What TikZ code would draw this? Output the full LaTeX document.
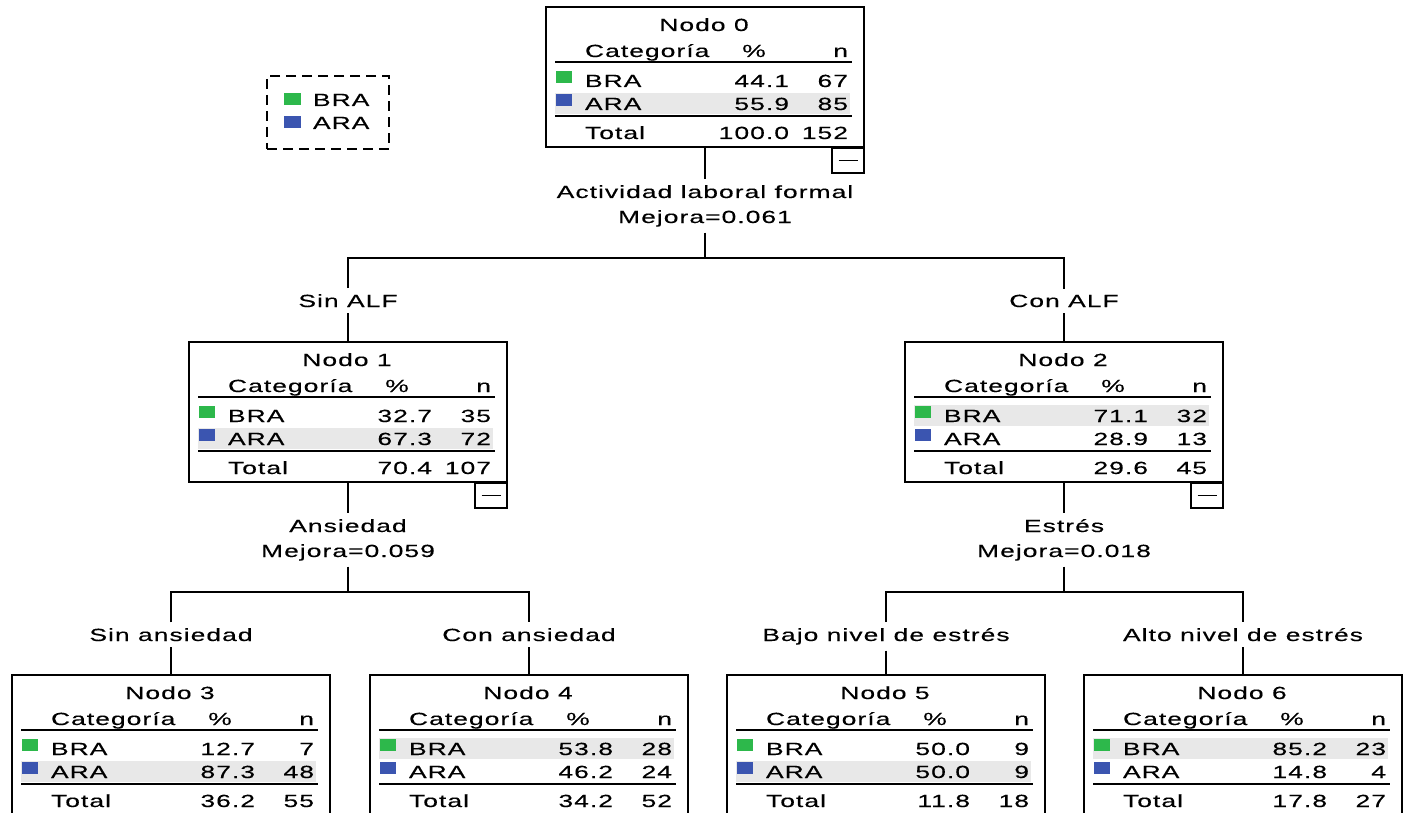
\documentclass[tikz,border=0pt]{standalone}
\usepackage{fontspec}
\newfontfamily\tf[FakeStretch=1.5,LetterSpace=6,FakeBold=0.3]{Liberation Sans}
\definecolor{bragreen}{HTML}{2DB84B}
\definecolor{arablue}{HTML}{3B55B0}
\definecolor{hlgray}{HTML}{E8E8E8}
\tikzset{
  txt/.style={font=\tf\fontsize{8.8}{10}\selectfont, inner sep=0pt, outer sep=0pt},
  lbl/.style={font=\tf\fontsize{8.8}{10}\selectfont, inner sep=3pt, outer sep=0pt},
  box/.style={draw, line width=1pt, minimum width=159pt, minimum height=70pt, anchor=north west, inner sep=0pt, outer sep=0pt},
  minusbox/.style={draw, line width=1pt, minimum width=16pt, minimum height=12.5pt, anchor=north east, inner sep=0pt, outer sep=0pt},
  rule/.style={line width=1pt},
  conn/.style={line width=1pt},
  legbox/.style={draw, line width=0.9pt, dash pattern=on 5pt off 3pt, minimum width=61pt, minimum height=36.5pt, anchor=north west, inner sep=0pt, outer sep=0pt}
}
\newcommand{\tnode}[9]{%
  \fill[hlgray] (9,#9) rectangle (304,#9+21);
  \node[box] (#1) at (0,0) {};
  \node[txt, anchor=base] (#1t) at (158,24) {Nodo #2};
  \node[txt, anchor=base west] (#1hc) at (39,50) {Categoría};
  \node[txt, anchor=base] (#1hp) at (208,50) {\%};
  \node[txt, anchor=base east] (#1hn) at (302,50) {n};
  \draw[rule] (9,55) -- (306,55);
  \fill[bragreen] (10,64) rectangle (26,76);
  \node[txt, anchor=base west] (#1b) at (39,80) {BRA};
  \node[txt, anchor=base east] (#1bp) at (243,80) {#3};
  \node[txt, anchor=base east] (#1bn) at (302,80) {#4};
  \fill[arablue] (10,87) rectangle (26,99);
  \node[txt, anchor=base west] (#1a) at (39,103) {ARA};
  \node[txt, anchor=base east] (#1ap) at (243,103) {#5};
  \node[txt, anchor=base east] (#1an) at (302,103) {#6};
  \draw[rule] (9,109) -- (306,109);
  \node[txt, anchor=base west] (#1o) at (39,132) {Total};
  \node[txt, anchor=base east] (#1op) at (243,132) {#7};
  \node[txt, anchor=base east] (#1on) at (302,132) {#8};
}
\newcommand{\minusmark}[1]{%
  \node[minusbox] (#1m) at (318,141) {};
  \draw[line width=0.9pt] ([xshift=-4.75pt]#1m.center) -- ([xshift=4.75pt]#1m.center);
}
\begin{document}
\begin{tikzpicture}[x=0.5pt,y=-0.5pt]
\useasboundingbox (0,0) rectangle (1408,813);
\clip (0,0) rectangle (1408,813);

% legend
\node[legbox] (leg) at (267,76) {};
\fill[bragreen] (284,93) rectangle (301,105);
\node[txt, anchor=base west] (legb) at (313,106) {BRA};
\fill[arablue] (284,116) rectangle (301,128);
\node[txt, anchor=base west] (lega) at (313,129) {ARA};

% nodes
\begin{scope}[shift={(546,7)}]
  \tnode{n0}{0}{44.1}{67}{55.9}{85}{100.0}{152}{86}\minusmark{n0}
\end{scope}
\begin{scope}[shift={(189,342)}]
  \tnode{n1}{1}{32.7}{35}{67.3}{72}{70.4}{107}{86}\minusmark{n1}
\end{scope}
\begin{scope}[shift={(905,342)}]
  \tnode{n2}{2}{71.1}{32}{28.9}{13}{29.6}{45}{63}\minusmark{n2}
\end{scope}
\begin{scope}[shift={(12,675)}]
  \tnode{n3}{3}{12.7}{7}{87.3}{48}{36.2}{55}{86}
\end{scope}
\begin{scope}[shift={(370,675)}]
  \tnode{n4}{4}{53.8}{28}{46.2}{24}{34.2}{52}{63}
\end{scope}
\begin{scope}[shift={(727,675)}]
  \tnode{n5}{5}{50.0}{9}{50.0}{9}{11.8}{18}{86}
\end{scope}
\begin{scope}[shift={(1084,675)}]
  \tnode{n6}{6}{85.2}{23}{14.8}{4}{17.8}{27}{63}
\end{scope}

% split labels
\node[lbl, anchor=base] (l0a) at (705,198) {Actividad laboral formal};
\node[lbl, anchor=base] (l0b) at (705,223) {Mejora=0.061};
\node[lbl, anchor=base] (l1a) at (348,532) {Ansiedad};
\node[lbl, anchor=base] (l1b) at (348,557) {Mejora=0.059};
\node[lbl, anchor=base] (l2a) at (1064,532) {Estrés};
\node[lbl, anchor=base] (l2b) at (1064,557) {Mejora=0.018};

% edge labels
\node[lbl, anchor=base] (e1) at (348,307) {Sin ALF};
\node[lbl, anchor=base] (e2) at (1064,307) {Con ALF};
\node[lbl, anchor=base] (e3) at (171,641) {Sin ansiedad};
\node[lbl, anchor=base] (e4) at (529,641) {Con ansiedad};
\node[lbl, anchor=base] (e5) at (886,641) {Bajo nivel de estrés};
\node[lbl, anchor=base] (e6) at (1243,641) {Alto nivel de estrés};

\coordinate (h0) at (705,258);
\coordinate (h1) at (348,592);
\coordinate (h2) at (1064,592);

% connectors
\draw[conn] (n0.south) -- (l0a.north);
\draw[conn] (l0b.south) -- (h0);
\draw[conn] (e1.north) |- (h0) -| (e2.north);
\draw[conn] (e1.south) -- (n1.north);
\draw[conn] (e2.south) -- (n2.north);

\draw[conn] (n1.south) -- (l1a.north);
\draw[conn] (l1b.south) -- (h1);
\draw[conn] (e3.north) |- (h1) -| (e4.north);
\draw[conn] (e3.south) -- (n3.north);
\draw[conn] (e4.south) -- (n4.north);

\draw[conn] (n2.south) -- (l2a.north);
\draw[conn] (l2b.south) -- (h2);
\draw[conn] (e5.north) |- (h2) -| (e6.north);
\draw[conn] (e5.south) -- (n5.north);
\draw[conn] (e6.south) -- (n6.north);
\end{tikzpicture}
\end{document}
